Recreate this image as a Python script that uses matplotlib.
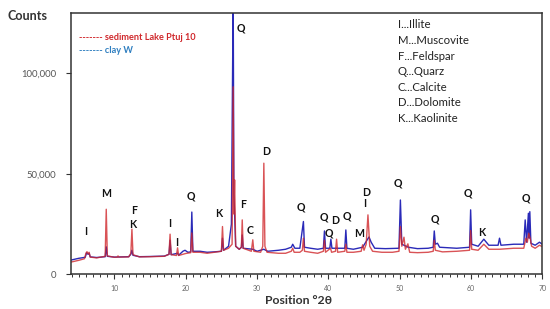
# %% biblioteke

import matplotlib
matplotlib.use('Agg')
import matplotlib.pyplot as plt
from matplotlib.ticker import MultipleLocator, FuncFormatter

# %% podaci (ocitano sa slike)

# sediment Lake Ptuj 10 (crvena)
theta_sed = [4.0, 5.0, 5.8, 6.0, 6.15, 6.3, 6.45, 6.6, 7.5, 8.7, 8.85, 9.0, 10.0, 10.4, 10.5, 10.6,
             12.0, 12.3, 12.45, 12.6, 13.5, 15.0, 17.0, 17.65, 17.8, 17.95, 18.7, 18.85, 19.0,
             19.6, 20.0, 20.7, 20.85, 21.0, 22.0, 23.0, 24.0, 25.0, 25.15, 25.3, 26.0, 26.5,
             26.65, 26.75, 26.85, 27.0, 27.5, 27.8, 27.92, 28.05, 29.2, 29.4, 29.55, 30.5, 30.8,
             30.95, 31.1, 31.4, 33.0, 34.0, 34.8, 35.0, 35.2, 36.0, 36.35, 36.5, 36.65, 37.5,
             38.5, 39.3, 39.45, 39.6, 40.3, 40.45, 41.0, 41.15, 41.3, 42.3, 42.45, 42.6, 43.5,
             44.6, 44.8, 45.0, 45.3, 45.55, 45.8, 46.2, 47.5, 49.0, 49.9, 50.1, 50.3, 50.6, 50.8,
             51.15, 51.4, 52.5, 54.0, 54.7, 54.85, 55.0, 56.0, 58.0, 59.8, 59.95, 60.1, 61.0,
             61.8, 62.5, 64.0, 66.0, 67.4, 67.7, 67.9, 68.1, 68.3, 68.5, 69.0, 69.6, 70.0]
counts_sed = [6200, 7000, 7800, 10500, 11300, 10200, 11000, 8600, 8200, 9000, 32400, 9200, 8500, 8600, 9200, 8600,
              8700, 10500, 22500, 9800, 8700, 8800, 9000, 10000, 20000, 9800, 9400, 13200, 9400,
              10000, 10400, 10800, 20600, 11000, 11000, 10500, 11000, 11500, 23800, 12000, 13000, 15000,
              93300, 30000, 47000, 14000, 12500, 13500, 27100, 13000, 11500, 17200, 11500, 11000, 14000,
              55300, 14000, 11000, 10500, 10500, 11500, 13000, 11000, 11000, 12000, 18000, 11500, 11000,
              10500, 11500, 17000, 11000, 13000, 11000, 11500, 17500, 11000, 11500, 15000, 11000, 11000,
              11500, 14700, 12000, 15000, 29600, 14000, 11500, 11000, 11000, 11500, 23800, 14000, 18500, 12500,
              15200, 11000, 10800, 11000, 11500, 17000, 12000, 11200, 11500, 12000, 21800, 12500, 12000,
              15000, 12500, 12500, 13000, 13000, 18000, 16000, 20500, 18000, 14000, 13000, 14500, 13800]

# clay W (plava)
theta_clay = [4.0, 5.0, 5.9, 6.1, 6.3, 6.45, 6.6, 7.5, 8.7, 8.85, 9.0, 10.0, 12.0, 12.3, 12.45, 12.6,
              13.5, 15.0, 17.0, 17.65, 17.8, 17.95, 18.85, 19.0, 19.6, 19.9, 20.3, 20.7, 20.85, 21.0,
              22.0, 23.0, 24.0, 25.0, 25.15, 25.3, 26.0, 26.4, 26.65, 26.75, 26.85, 27.0, 27.5, 27.8,
              27.92, 28.05, 29.4, 30.0, 30.95, 31.5, 33.0, 34.0, 34.8, 35.0, 35.3, 36.0, 36.5, 36.65,
              37.5, 38.5, 39.3, 39.45, 39.6, 40.2, 40.35, 40.5, 41.1, 42.3, 42.45, 42.6, 43.5, 44.8,
              45.5, 45.7, 46.0, 46.5, 48.0, 49.9, 50.1, 50.3, 50.6, 51.2, 52.5, 54.0, 54.7, 54.85,
              55.0, 55.3, 55.6, 58.0, 59.8, 59.95, 60.1, 61.0, 61.8, 62.5, 63.8, 64.0, 64.2, 66.0,
              67.4, 67.6, 67.8, 68.05, 68.15, 68.25, 68.4, 69.0, 69.6, 70.0]
counts_clay = [7200, 8000, 8500, 10800, 10000, 10500, 8700, 8400, 8800, 13700, 9000, 8600, 8800, 10000, 12000, 9500,
               8800, 8900, 9100, 10000, 17000, 9800, 10500, 9500, 11500, 12000, 11000, 11200, 31000, 11500,
               11500, 11000, 11200, 11500, 18000, 12000, 14000, 25000, 140000, 40000, 30000, 14000, 12500, 13500,
               19600, 13000, 12500, 11500, 12500, 11500, 12000, 12500, 13500, 15000, 13000, 13000, 26300, 13500,
               13000, 12500, 13000, 21600, 13000, 13000, 17500, 13000, 13000, 13000, 22100, 13000, 12500, 13500,
               17500, 18600, 16000, 13000, 12800, 13000, 37000, 15000, 14500, 13500, 12800, 13000, 13500, 21600,
               15000, 15500, 13500, 13000, 13500, 32100, 15000, 14000, 17500, 14500, 14500, 18000, 14500, 15000,
               15000, 27100, 16000, 30400, 18000, 31200, 15500, 14500, 16000, 15000]

# oznake minerala iznad pikova
peak_labels = ['I', 'M', 'F', 'K', 'I', 'I', 'Q', 'K', 'Q', 'F', 'C', 'D',
               'Q', 'Q', 'Q', 'D', 'Q', 'M', 'D', 'I', 'Q', 'Q', 'Q', 'K', 'Q']
peak_x = [6.0, 8.9, 12.7, 12.6, 17.7, 18.7, 20.7, 24.6, 27.7, 28.1, 29.0, 31.3,
          36.1, 39.3, 40.1, 41.0, 42.6, 44.3, 45.3, 45.1, 49.7, 55.0, 59.6, 61.5, 67.7]
peak_y = [21200, 40400, 31600, 25000, 25500, 16000, 39000, 30400, 122500, 34900, 21600, 61100,
          33700, 28500, 20800, 26600, 29200, 20100, 40700, 35100, 45400, 27500, 40700, 20800, 38000]

legend_minerals = ['I...Illite', 'M...Muscovite', 'F...Feldspar', 'Q...Quarz',
                   'C...Calcite', 'D...Dolomite', 'K...Kaolinite']

y_ticks = [0, 50000, 100000]

# %% grafik

RED = '#d0282c'
BLUE = '#2a2ab8'
plt.rcParams['font.family'] = ['Lato', 'DejaVu Sans']

fig = plt.figure(figsize=(5.5, 3.09), dpi=100)
ax = fig.add_axes([0.129, 0.112, 0.857, 0.846])

ax.plot(theta_clay, counts_clay, color=BLUE, linewidth=1.0)
ax.plot(theta_sed, counts_sed, color=RED, linewidth=1.0, alpha=0.8)

ax.set_xlim(3.9, 70)
ax.set_ylim(0, 130000)

ax.xaxis.set_major_locator(MultipleLocator(10))
ax.xaxis.set_minor_locator(MultipleLocator(1))
ax.set_yticks(y_ticks)
ax.yaxis.set_major_formatter(FuncFormatter(lambda v, p: f'{int(v):,}'))
ax.tick_params(axis='x', which='major', length=3.5, width=0.8, color='#333333',
               labelsize=5, labelcolor='#666666', pad=4)
ax.tick_params(axis='x', which='minor', length=2.2, width=0.7, color='#333333')
ax.tick_params(axis='y', length=3.5, width=0.8, color='#333333',
               labelsize=6.8, labelcolor='#555555', pad=7)
for s in ax.spines.values():
    s.set_color('#333333')
    s.set_linewidth(1.1)

for t, x, y in zip(peak_labels, peak_x, peak_y):
    ax.text(x, y, t, ha='center', va='center', fontsize=7.6, fontweight='bold', color='#111111')

ax.text(0.018, 0.905, '------- sediment Lake Ptuj 10', transform=ax.transAxes, color=RED,
        fontsize=6.6, fontweight='bold', va='center')
ax.text(0.018, 0.855, '------- clay W', transform=ax.transAxes, color='#2f7fc0',
        fontsize=6.6, fontweight='bold', va='center')

for i, t in enumerate(legend_minerals):
    fig.text(398 / 550, 1 - (25 + i * 15.6) / 309, t, fontsize=8.2, color='#222222', va='center')

fig.text(7 / 550, 1 - 16 / 309, 'Counts', fontsize=9, fontweight='bold', color='#333333', va='center')
fig.text(265 / 550, 1 - 300 / 309, 'Position °2θ', fontsize=8.8, fontweight='bold',
         color='#333333', va='center')

fig.savefig('out.png', dpi=100)
